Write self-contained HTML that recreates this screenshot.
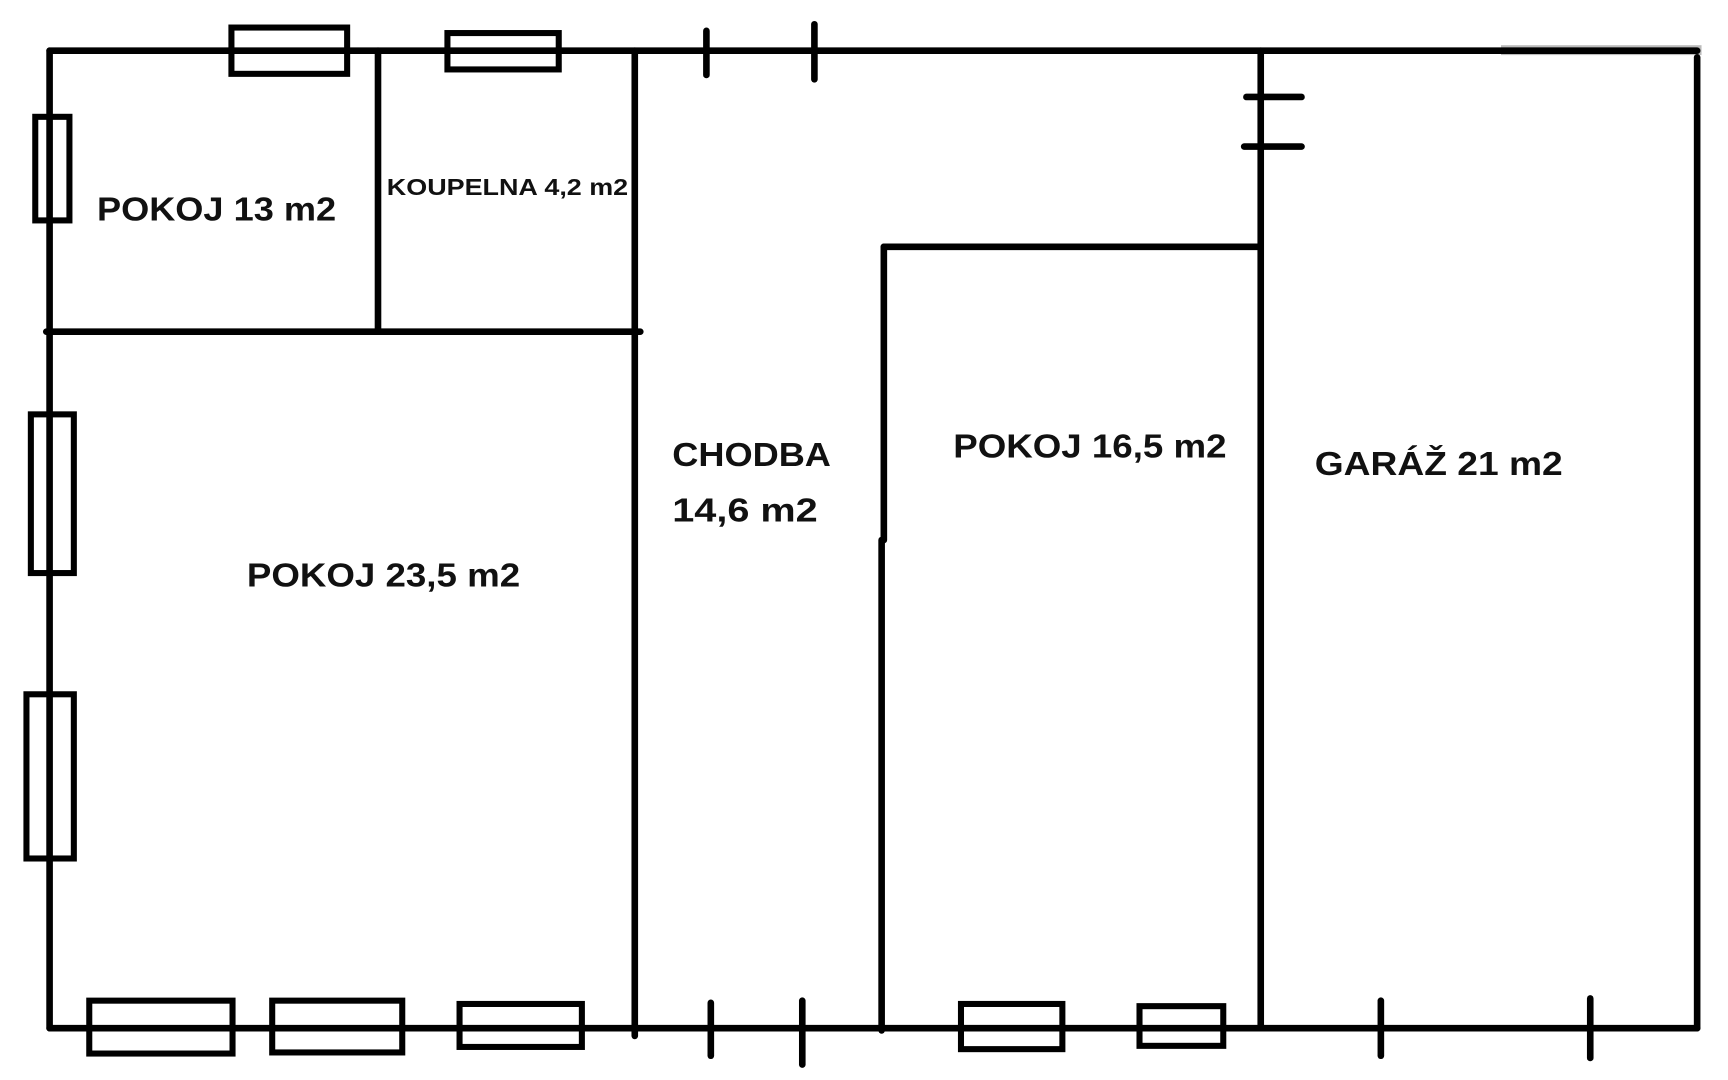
<!DOCTYPE html>
<html><head><meta charset="utf-8"><style>html,body{margin:0;padding:0;background:#fff}svg{display:block}</style></head><body>
<svg width="1728" height="1080" viewBox="0 0 1568 980" preserveAspectRatio="none" xmlns="http://www.w3.org/2000/svg">
<rect x="0" y="0" width="1568" height="980" fill="#fff"/>
<rect x="1362" y="41" width="182" height="9" fill="#bbb"/>
<g stroke="#000" stroke-width="6" fill="none" stroke-linecap="round">
<line x1="45" y1="46" x2="1540" y2="46"/>
<line x1="45" y1="46" x2="45" y2="933"/>
<line x1="45" y1="933" x2="1540" y2="933"/>
<line x1="1540" y1="52" x2="1540" y2="933"/>
<line x1="42" y1="301" x2="581" y2="301"/>
<line x1="343" y1="46" x2="343" y2="301"/>
<line x1="576" y1="46" x2="576" y2="940"/>
<line x1="802" y1="224" x2="802" y2="490"/>
<line x1="800" y1="490" x2="800" y2="935"/>
<line x1="802" y1="224" x2="1143" y2="224"/>
<line x1="1144" y1="46" x2="1144" y2="933"/>
<line x1="641" y1="28" x2="641" y2="68"/>
<line x1="739" y1="22" x2="739" y2="72"/>
<line x1="1131" y1="88" x2="1181" y2="88"/>
<line x1="1129" y1="133" x2="1181" y2="133"/>
<line x1="645" y1="910" x2="645" y2="958"/>
<line x1="728" y1="908" x2="728" y2="966"/>
<line x1="1253" y1="908" x2="1253" y2="958"/>
<line x1="1443" y1="906" x2="1443" y2="960"/>
</g>
<g stroke="#000" stroke-width="5.5" fill="none">
<rect x="210" y="25" width="105" height="42"/>
<rect x="406" y="30" width="101" height="33"/>
<rect x="32" y="106" width="31" height="94"/>
<rect x="28" y="376" width="39" height="144"/>
<rect x="24" y="630" width="43" height="149"/>
<rect x="81" y="908" width="130" height="48"/>
<rect x="247" y="908" width="118" height="47"/>
<rect x="417" y="911" width="111" height="39"/>
<rect x="872" y="911" width="92" height="41"/>
<rect x="1034" y="913" width="76" height="36"/>
</g>
<g font-family="'Liberation Sans', sans-serif" font-weight="bold" fill="#111">
<text x="88" y="200" font-size="30" textLength="217" lengthAdjust="spacingAndGlyphs">POKOJ 13 m2</text>
<text x="351" y="177" font-size="21" textLength="219" lengthAdjust="spacingAndGlyphs">KOUPELNA 4,2 m2</text>
<text x="224" y="532" font-size="30" textLength="248" lengthAdjust="spacingAndGlyphs">POKOJ 23,5 m2</text>
<text x="610" y="423" font-size="30" textLength="144" lengthAdjust="spacingAndGlyphs">CHODBA</text>
<text x="610" y="473" font-size="30" textLength="132" lengthAdjust="spacingAndGlyphs">14,6 m2</text>
<text x="865" y="415" font-size="30" textLength="248" lengthAdjust="spacingAndGlyphs">POKOJ 16,5 m2</text>
<text x="1193" y="431" font-size="30" textLength="225" lengthAdjust="spacingAndGlyphs">GARÁŽ 21 m2</text>
</g>
</svg>
</body></html>
